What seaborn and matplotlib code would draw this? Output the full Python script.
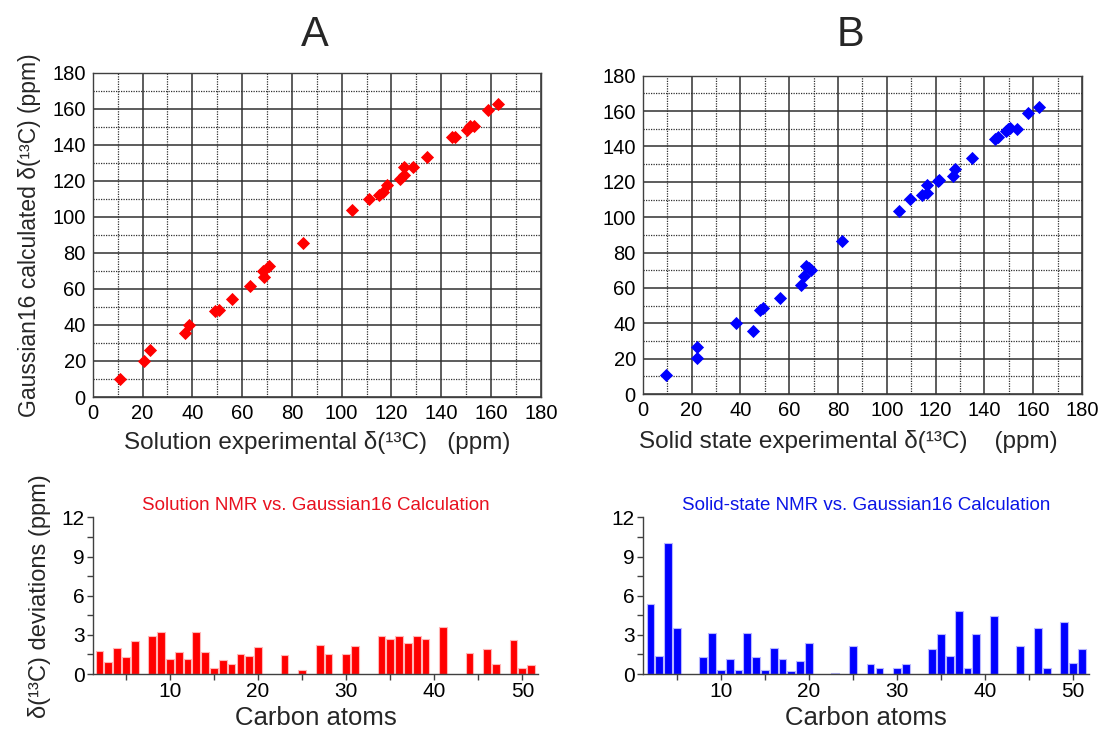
import matplotlib
matplotlib.use('Agg')
import matplotlib.pyplot as plt
import seaborn as sns
import pandas as pd
from matplotlib.ticker import MultipleLocator

# scatter A: solution experimental vs Gaussian16 calculated (ppm)
sol_exp = [10.8, 20.6, 23.0, 37.2, 38.8, 49.1, 50.6, 55.9, 63.3, 68.8, 68.5, 70.8, 84.3,
           104.0, 111.1, 115.1, 116.5, 118.1, 123.4, 125.0, 125.1, 128.8, 134.4,
           144.2, 145.5, 150.2, 151.5, 153.3, 158.9, 162.7]
sol_calc = [10.0, 20.0, 26.1, 35.6, 40.0, 47.6, 48.5, 54.3, 61.7, 66.7, 70.0, 72.9, 85.7,
            103.9, 109.8, 112.2, 113.7, 117.4, 120.9, 123.3, 127.6, 127.6, 133.0,
            144.3, 144.3, 148.3, 150.2, 150.2, 159.1, 162.8]

# scatter B: solid state experimental vs Gaussian16 calculated (ppm)
ss_exp = [9.6, 22.2, 22.2, 38.1, 45.2, 47.9, 49.3, 56.4, 65.0, 66.1, 67.0, 68.1, 69.1, 81.7,
          105.1, 109.6, 114.3, 116.3, 116.6, 120.8, 121.5, 127.2, 127.8, 134.9,
          144.4, 145.6, 148.7, 149.6, 150.6, 153.2, 158.0, 162.5]
ss_calc = [10.6, 20.5, 26.6, 40.2, 35.6, 47.5, 48.6, 54.3, 61.5, 66.7, 72.6, 71.3, 70.1, 86.4,
           103.7, 110.5, 112.4, 113.9, 118.0, 120.7, 121.0, 123.3, 127.4, 133.5,
           144.4, 145.2, 148.8, 149.7, 150.6, 149.9, 159.1, 162.5]

# deviations per carbon atom (ppm)
sol_atoms = [2, 3, 4, 5, 6, 8, 9, 10, 11, 12, 13, 14, 15, 16, 17, 18, 19, 20, 23, 25, 27, 28,
             30, 31, 34, 35, 36, 37, 38, 39, 41, 44, 46, 47, 49, 50, 51]
sol_dev = [1.8, 0.9, 2.0, 1.3, 2.55, 2.9, 3.25, 1.15, 1.7, 1.15, 3.25, 1.7, 0.5, 1.05, 0.75,
           1.55, 1.4, 2.05, 1.45, 0.3, 2.2, 1.55, 1.55, 2.15, 2.9, 2.67, 2.9, 2.37, 2.9, 2.67,
           3.6, 1.63, 1.9, 0.8, 2.6, 0.45, 0.7]
ss_atoms = [2, 3, 4, 5, 8, 9, 10, 11, 12, 13, 14, 15, 16, 17, 18, 19, 20, 23, 25, 27, 28,
            30, 31, 34, 35, 36, 37, 38, 39, 41, 44, 46, 47, 49, 50, 51]
ss_dev = [5.35, 1.39, 10.0, 3.5, 1.29, 3.16, 0.33, 1.18, 0.33, 3.16, 1.29, 0.28, 2.03, 1.16,
          0.23, 1.03, 2.34, 0.1, 2.13, 0.8, 0.46, 0.46, 0.8, 1.93, 3.03, 1.36, 4.86, 0.46,
          3.03, 4.45, 2.13, 3.55, 0.49, 3.96, 0.85, 1.95]

sns.set_style('white')
plt.rcParams['font.family'] = ['Liberation Sans', 'DejaVu Sans']

fig = plt.figure(figsize=(11, 7.29), dpi=100)

ax_a = fig.add_axes([0.0843, 0.4554, 0.4073, 0.4449])
ax_b = fig.add_axes([0.5843, 0.4595, 0.3994, 0.4366])
bar_a = fig.add_axes([0.0848, 0.0754, 0.4045, 0.2149])
bar_b = fig.add_axes([0.5845, 0.0754, 0.4055, 0.2149])


def style_scatter(ax):
    ax.set_xlim(0, 180)
    ax.set_ylim(0, 180)
    ax.xaxis.set_major_locator(MultipleLocator(20))
    ax.yaxis.set_major_locator(MultipleLocator(20))
    ax.xaxis.set_minor_locator(MultipleLocator(10))
    ax.yaxis.set_minor_locator(MultipleLocator(10))
    ax.grid(which='major', color='#303030', linewidth=1.1, linestyle='-')
    ax.grid(which='minor', color='#303030', linewidth=0.9, linestyle=(0, (1, 1)))
    ax.set_axisbelow(True)
    ax.tick_params(which='both', length=0, labelsize=14.5, pad=5, colors='black')
    for s in ax.spines.values():
        s.set_color('#404040')
        s.set_linewidth(1.0)


sns.scatterplot(x=sol_exp, y=sol_calc, ax=ax_a, marker='D', color='#ff0000', s=45,
                linewidth=0, zorder=3)
style_scatter(ax_a)
ax_a.set_xlabel('Solution experimental δ(¹³C)   (ppm)', fontsize=17.5, labelpad=6)
ax_a.set_ylabel('Gaussian16 calculated δ(¹³C) (ppm)', fontsize=16.5, labelpad=8)

sns.scatterplot(x=ss_exp, y=ss_calc, ax=ax_b, marker='D', color='#0000ff', s=45,
                linewidth=0, zorder=3)
style_scatter(ax_b)
ax_b.set_xlabel('Solid state experimental δ(¹³C)    (ppm)', fontsize=17.5, labelpad=6)
ax_b.xaxis.set_label_coords(0.468, -0.113)

fig.text(0.286, 0.952, 'A', fontsize=30, ha='center', va='center')
fig.text(0.773, 0.952, 'B', fontsize=30, ha='center', va='center')


def style_bar(ax, xlo):
    ax.set_xlim(xlo, 51.8)
    ax.set_ylim(0, 12)
    ax.xaxis.set_major_locator(MultipleLocator(10))
    ax.xaxis.set_minor_locator(MultipleLocator(5))
    ax.yaxis.set_major_locator(MultipleLocator(3))
    ax.yaxis.set_minor_locator(MultipleLocator(1.5))
    ax.tick_params(which='both', direction='out', length=4, width=1, color='#404040',
                   labelsize=15, pad=2, labelcolor='black', bottom=True, left=True)
    ax.tick_params(which='minor', labelleft=False, labelbottom=False)
    sns.despine(ax=ax)
    for s in ['left', 'bottom']:
        ax.spines[s].set_color('#404040')
        ax.spines[s].set_linewidth(1.0)
    ax.set_xlabel('Carbon atoms', fontsize=18.5, labelpad=3)


df_a = pd.DataFrame({'atom': sol_atoms, 'dev': sol_dev})
sns.barplot(data=df_a, x='atom', y='dev', ax=bar_a, native_scale=True, color='#ff0000',
            saturation=1, width=0.88, errorbar=None, edgecolor='#ffb8b8', linewidth=0.8)
style_bar(bar_a, 1.3)
bar_a.set_ylabel('δ(¹³C) deviations (ppm)', fontsize=17, labelpad=8)
bar_a.set_title('Solution NMR vs. Gaussian16 Calculation', color='#e8101e', fontsize=13.5, pad=5)

df_b = pd.DataFrame({'atom': ss_atoms, 'dev': ss_dev})
sns.barplot(data=df_b, x='atom', y='dev', ax=bar_b, native_scale=True, color='#0000ff',
            saturation=1, width=0.88, errorbar=None, edgecolor='#b8b8ff', linewidth=0.8)
style_bar(bar_b, 1.15)
bar_b.set_ylabel('')
bar_b.set_title('Solid-state NMR vs. Gaussian16 Calculation', color='#0a14e6', fontsize=13.5, pad=5)

fig.savefig('out.png', dpi=100)
